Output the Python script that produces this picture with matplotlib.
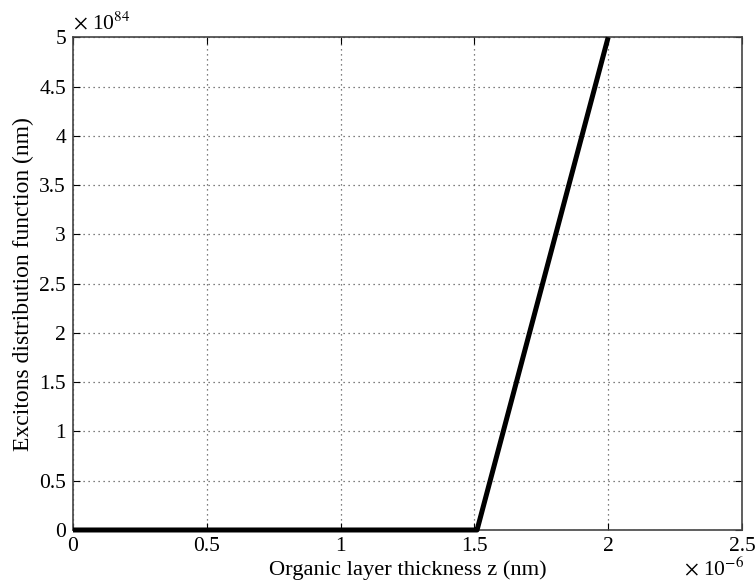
import numpy as np
import matplotlib.pyplot as plt

# thickness (x 1e-6) and exciton distribution (x 1e84)
thickness = [0.0, 0.5, 1.0, 1.5, 1.51, 2.0]
excitons = [0.0, 0.0, 0.0, 0.0, 0.0, 5.0]

xticks = [0, 0.5, 1, 1.5, 2, 2.5]
xticklabels = ['0', '0.5', '1', '1.5', '2', '2.5']
yticks = [0, 0.5, 1, 1.5, 2, 2.5, 3, 3.5, 4, 4.5, 5]
yticklabels = ['0', '0.5', '1', '1.5', '2', '2.5', '3', '3.5', '4', '4.5', '5']

plt.rcParams['font.family'] = ['Liberation Serif', 'DejaVu Serif']
plt.rcParams['mathtext.fontset'] = 'stix'

fig = plt.figure(figsize=(7.55, 5.81), dpi=100)
ax = fig.add_axes([0.0967, 0.0878, 0.886, 0.848])

ax.plot(thickness, excitons, color='black', lw=3.6, solid_capstyle='butt', clip_on=False, zorder=3)

ax.set_xlim(0, 2.5)
ax.set_ylim(0, 5)
ax.set_xticks(xticks)
ax.set_xticklabels(xticklabels)
ax.set_yticks(yticks)
ax.set_yticklabels(yticklabels)
ax.tick_params(direction='in', top=True, right=True, labelsize=15.5, length=5, width=0.8, pad=5)
ax.grid(True, linestyle=(0, (1, 3)), color='#555555', lw=0.9)
for s in ax.spines.values():
    s.set_linewidth(1.2)
    s.set_color('#444444')

ax.set_xlabel('Organic layer thickness z (nm)', fontsize=16.2, labelpad=3)
ax.set_ylabel('Excitons distribution function (nm)', fontsize=17, labelpad=4)

ax.text(0.0, 1.005, r'$\times$ 10$^{84}$', transform=ax.transAxes, fontsize=15.5,
        ha='left', va='bottom')
fig.text(0.986, 0.001, r'$\times$ 10$^{-6}$', fontsize=15.5, ha='right', va='bottom')

fig.savefig('out.png', dpi=100)
